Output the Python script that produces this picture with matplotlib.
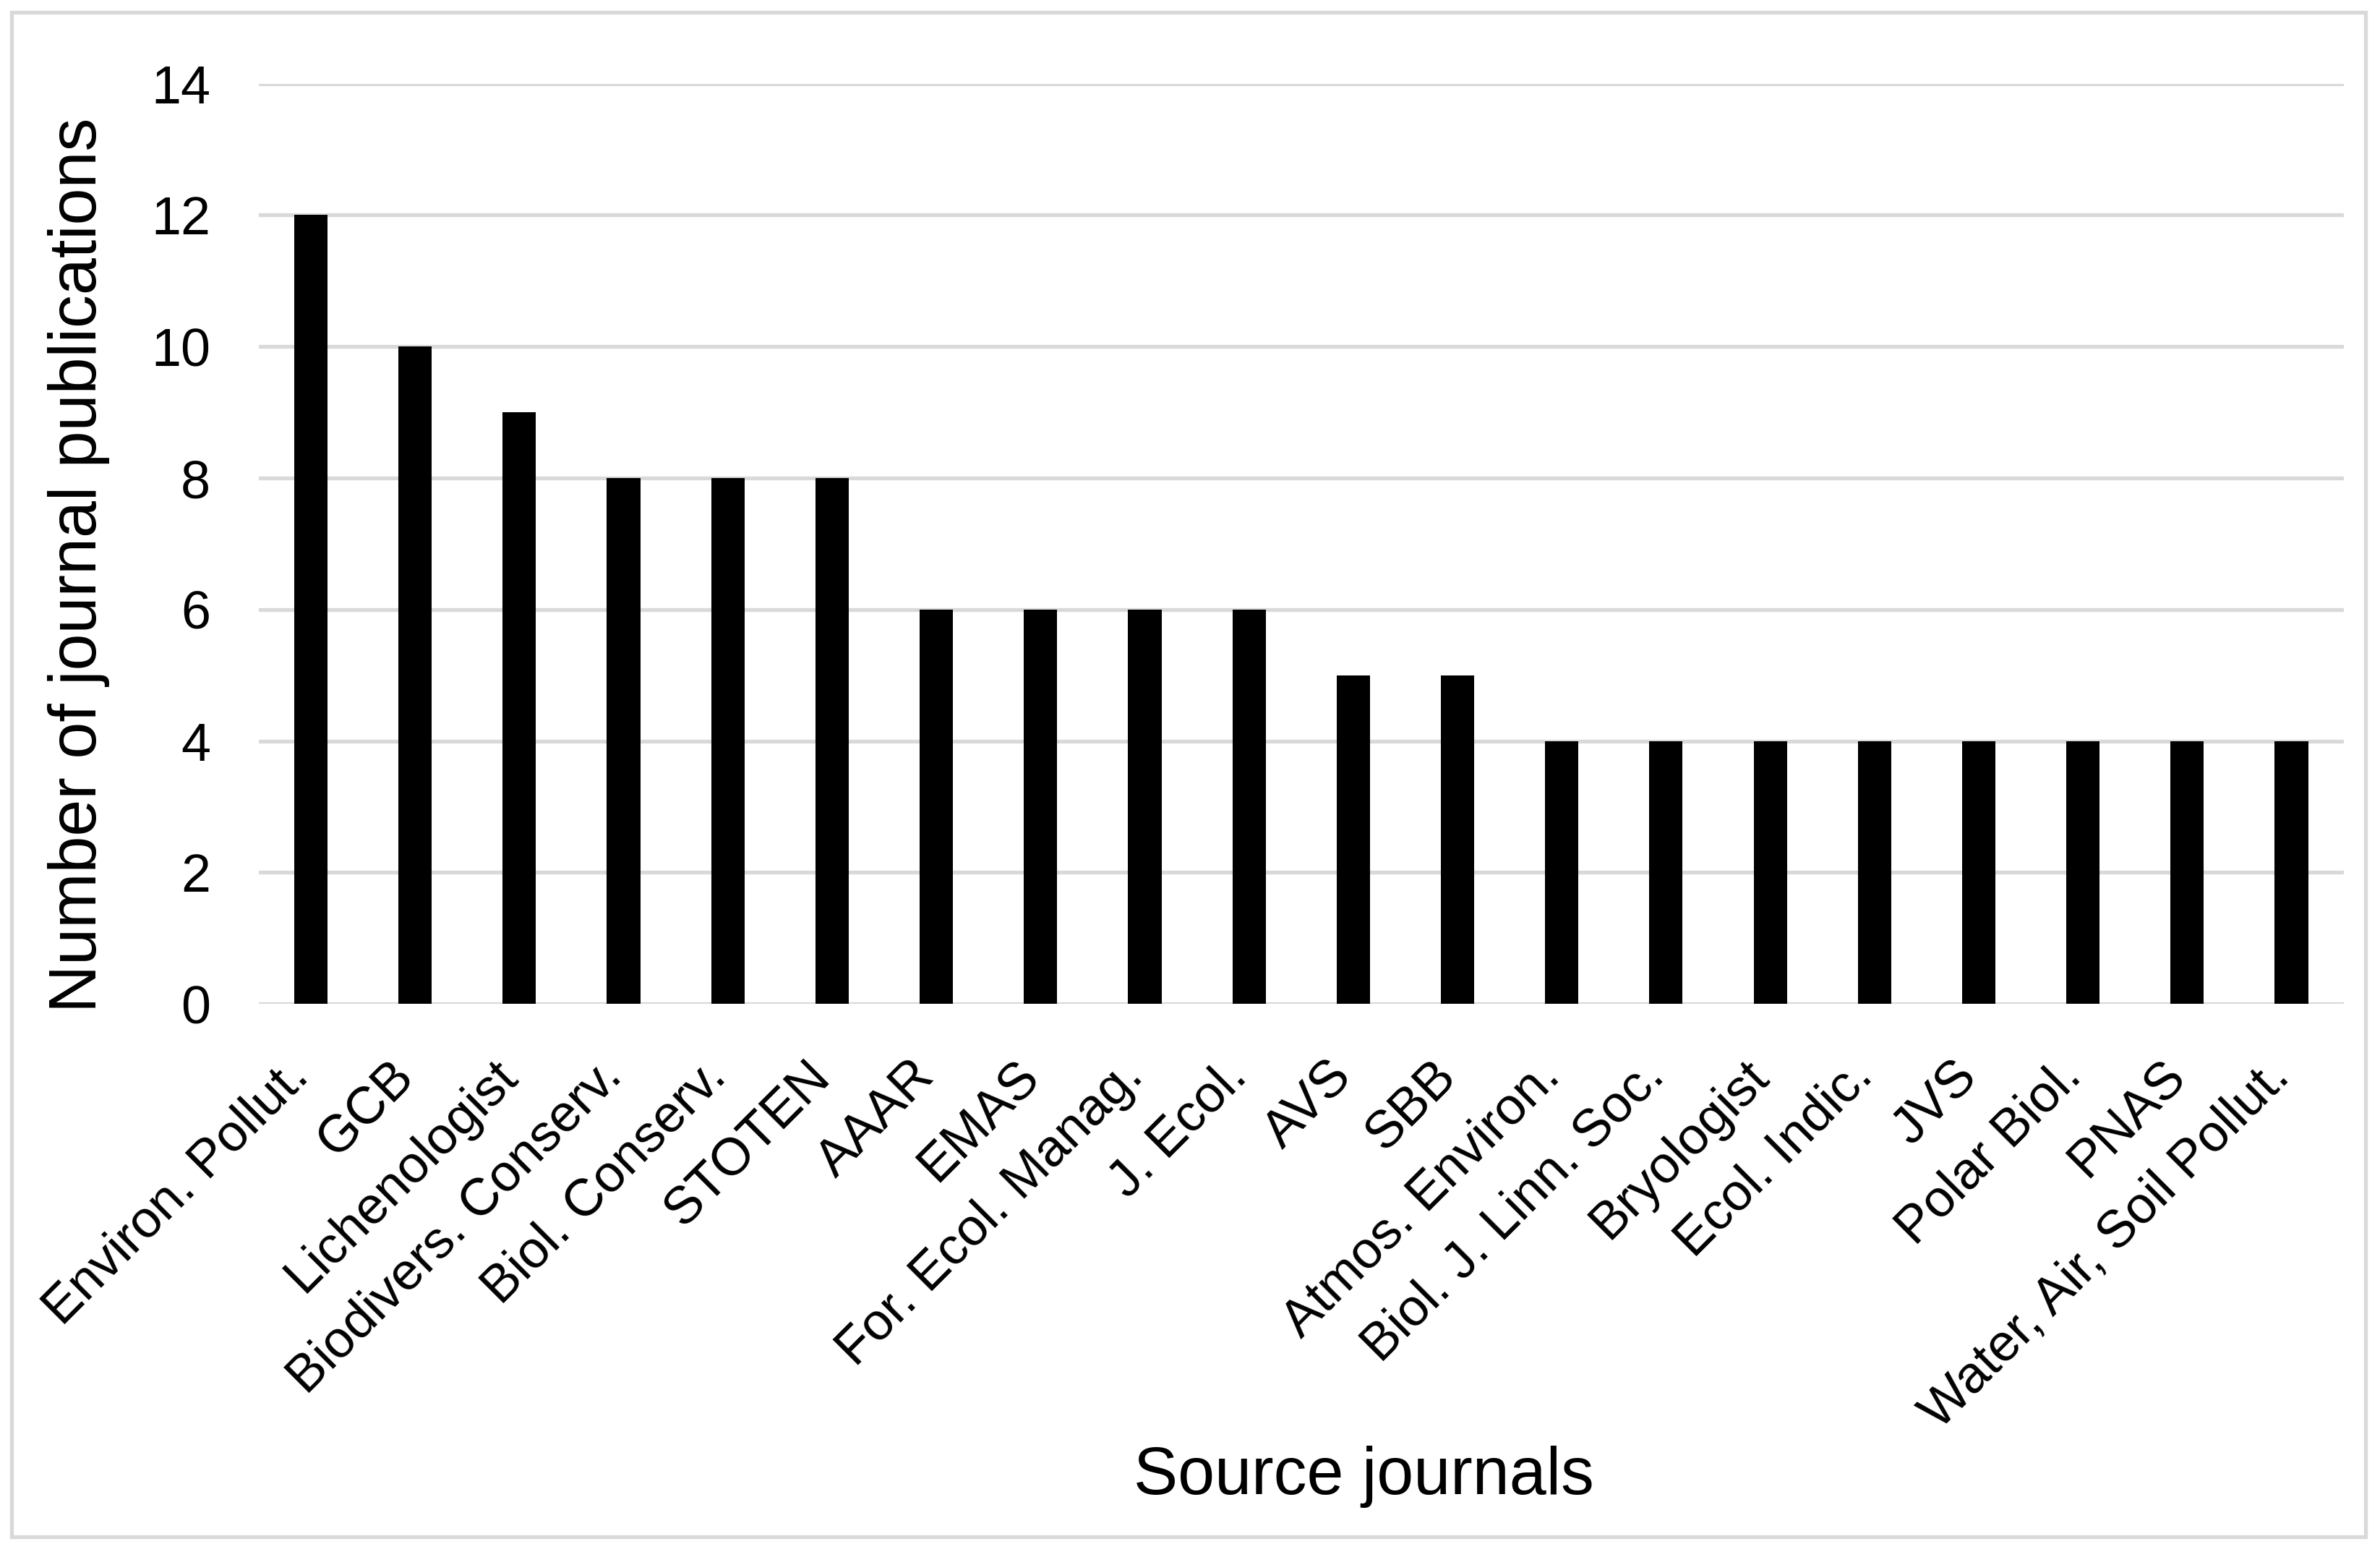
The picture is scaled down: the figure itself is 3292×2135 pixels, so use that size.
"""Bar chart: number of journal publications per source journal."""

import matplotlib
matplotlib.use("Agg")
import matplotlib.pyplot as plt
from matplotlib.patches import Rectangle

journals = [
    "Environ. Pollut.", "GCB", "Lichenologist", "Biodivers. Conserv.",
    "Biol. Conserv.", "STOTEN", "AAAR", "EMAS", "For. Ecol. Manag.",
    "J. Ecol.", "AVS", "SBB", "Atmos. Environ.", "Biol. J. Linn. Soc.",
    "Bryologist", "Ecol. Indic.", "JVS", "Polar Biol.", "PNAS",
    "Water, Air, Soil Pollut.",
]
publications = [12, 10, 9, 8, 8, 8, 6, 6, 6, 6, 5, 5, 4, 4, 4, 4, 4, 4, 4, 4]
y_ticks = [0, 2, 4, 6, 8, 10, 12, 14]

GRID = "#d9d9d9"

plt.rcParams["font.family"] = ["Liberation Sans", "DejaVu Sans"]

fig = plt.figure(figsize=(16.46, 10.675), dpi=200)
ax = fig.add_axes([0.1087, 0.3498, 0.876, 0.596])

x = range(len(journals))
ax.bar(x, publications, width=0.32, color="black", zorder=3)

ax.set_xlim(-0.5, len(journals) - 0.5)
ax.set_ylim(0, 14)
ax.set_yticks(y_ticks)
ax.yaxis.grid(True, color=GRID, linewidth=1.9, zorder=0)
ax.set_axisbelow(True)

ax.set_xticks(list(x))
ax.set_xticklabels(journals, rotation=45, ha="right", va="baseline",
                   rotation_mode="anchor", fontsize=26)
ax.tick_params(axis="x", length=0, pad=37)
ax.tick_params(axis="y", length=0, pad=24, labelsize=26.5)

for side in ("top", "right", "left", "bottom"):
    ax.spines[side].set_visible(False)

ax.set_ylabel("Number of journal publications", fontsize=33)
ax.yaxis.set_label_coords(-0.0715, 0.477)
ax.set_xlabel("Source journals", fontsize=33)
ax.xaxis.set_label_coords(0.530, -0.48)

# light grey frame round the whole chart
fig.patches.append(Rectangle((0.0048, 0.0047), 0.9891, 0.9873,
                             transform=fig.transFigure, fill=False,
                             edgecolor=GRID, linewidth=1.9))

fig.savefig("out.png", dpi=200)
